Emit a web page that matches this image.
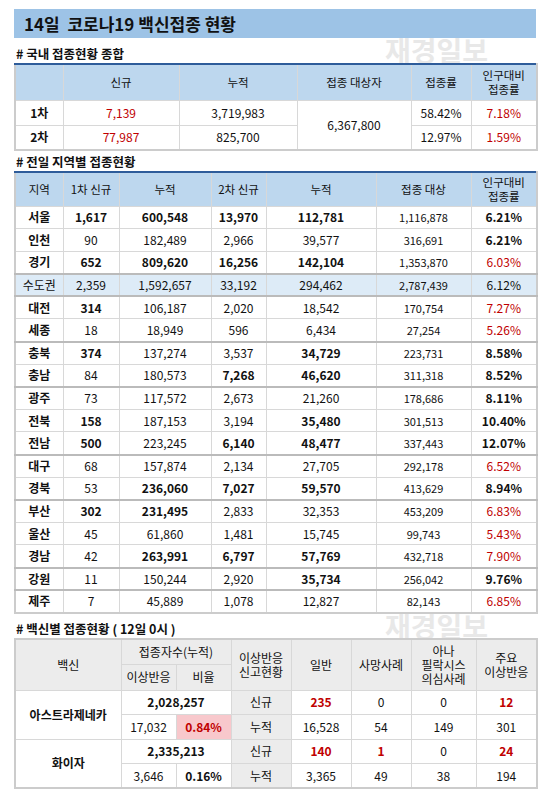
<!DOCTYPE html>
<html><head><meta charset="utf-8">
<script src="https://cdn.jsdelivr.net/npm/chart.js@4"></script>
<style>
body{margin:0;width:550px;height:798px;background:#fff;font-family:"Noto Sans CJK KR","Noto Sans",sans-serif;position:relative;overflow:hidden;color:#111}
.title{position:absolute;left:14px;top:9px;width:522px;height:29px;background:#9dc3e6;font-size:17px;font-weight:bold;line-height:29px;padding-left:10px;box-sizing:border-box}
.sec{position:absolute;left:16px;font-size:12.5px;font-weight:bold}
table{position:absolute;left:14px;border-collapse:collapse;font-size:12px;table-layout:fixed;border:2px solid #ccc}
td{border:1px solid #d8d8d8;text-align:center;padding:0;white-space:nowrap;line-height:14px}
th{background:#bdd7ee;font-weight:normal;border:1px solid #d8d8d8;font-size:11.5px;line-height:14px;padding:0}
.b{font-weight:bold}.r{color:#c00000}
.wm{position:absolute;font-size:28px;font-weight:bold;color:#e8e8e8;z-index:-1}
</style></head><body>
<div class="wm" style="left:385px;top:30px">재경일보</div>
<div class="wm" style="left:385px;top:606px">재경일보</div>
<div class="title">14일 &nbsp;코로나19 백신접종 현황</div>
<div class="sec" style="top:44px"># 국내 접종현황 종합</div>
<table id="t1" style="top:63px;width:522px;border-top:2px solid #2e5c9a"></table>
<div class="sec" style="top:152px"># 전일 지역별 접종현황</div>
<table id="t2" style="top:171px;width:522px;border-top:2px solid #2e5c9a"></table>
<div class="sec" style="top:619px"># 백신별 접종현황 ( 12일 0시 )</div>
<table id="t3" style="top:638px;width:522px"></table>
<script>
// Table 1
const doseLabels=["1차","2차"];
const doseNew=["7,139","77,987"];
const doseCum=["3,719,983","825,700"];
const doseTarget="6,367,800";
const doseRate=["58.42%","12.97%"];
const dosePopRate=["7.18%","1.59%"];
// Table 2
const regions=["서울","인천","경기","수도권","대전","세종","충북","충남","광주","전북","전남","대구","경북","부산","울산","경남","강원","제주"];
const first=["1,617","90","652","2,359","314","18","374","84","73","158","500","68","53","302","45","42","11","7"];
const firstCum=["600,548","182,489","809,620","1,592,657","106,187","18,949","137,274","180,573","117,572","187,153","223,245","157,874","236,060","231,495","61,860","263,991","150,244","45,889"];
const second=["13,970","2,966","16,256","33,192","2,020","596","3,537","7,268","2,673","3,194","6,140","2,134","7,027","2,833","1,481","6,797","2,920","1,078"];
const secondCum=["112,781","39,577","142,104","294,462","18,542","6,434","34,729","46,620","21,260","35,480","48,477","27,705","59,570","32,353","15,745","57,769","35,734","12,827"];
const target=["1,116,878","316,691","1,353,870","2,787,439","170,754","27,254","223,731","311,318","178,686","301,513","337,443","292,178","413,629","453,209","99,743","432,718","256,042","82,143"];
const popRate=["6.21%","6.21%","6.03%","6.12%","7.27%","5.26%","8.58%","8.52%","8.11%","10.40%","12.07%","6.52%","8.94%","6.83%","5.43%","7.90%","9.76%","6.85%"];
const bFirst=["서울","경기","대전","충북","전북","전남","부산"];
const bFirstCum=["서울","경기","경북","부산","경남"];
const bSecond=["서울","경기","충남","전남","경북","경남"];
const bSecondCum=["서울","경기","충북","충남","전북","전남","경북","경남","강원"];
const redRate=["경기","대전","세종","대구","부산","울산","경남","제주"];
const groupEnd=["경기","수도권","세종","충남","전남","경북","경남","강원"];
// Table 3
const vaccines=["아스트라제네카","화이자"];
const vacTotal=["2,028,257","2,335,213"];
const vacAdverse=["17,032","3,646"];
const vacRatio=["0.84%","0.16%"];
const newGeneral=["235","140"],newDeath=["0","1"],newAna=["0","0"],newMajor=["12","24"];
const cumGeneral=["16,528","3,365"],cumDeath=["54","49"],cumAna=["149","38"],cumMajor=["301","194"];

let h='<colgroup><col style="width:48px"><col style="width:116px"><col style="width:118px"><col style="width:114px"><col style="width:60px"><col style="width:66px"></colgroup>';
h+='<tr style="height:36px"><th></th><th>신규</th><th>누적</th><th>접종 대상자</th><th>접종률</th><th>인구대비<br>접종률</th></tr>';
doseLabels.forEach((d,i)=>{h+=`<tr style="height:25px"><td class="b">${d}</td><td class="r">${doseNew[i]}</td><td>${doseCum[i]}</td>${i==0?`<td rowspan="2">${doseTarget}</td>`:''}<td>${doseRate[i]}</td><td class="r">${dosePopRate[i]}</td></tr>`});
document.getElementById('t1').innerHTML=h;

h='<colgroup><col style="width:48px"><col style="width:56px"><col style="width:92px"><col style="width:55px"><col style="width:110px"><col style="width:95px"><col style="width:66px"></colgroup>';
h+='<tr style="height:34px"><th>지역</th><th>1차 신규</th><th>누적</th><th>2차 신규</th><th>누적</th><th>접종 대상</th><th>인구대비<br>접종률</th></tr>';
regions.forEach((r,i)=>{
 const cap=r=="수도권";
 const st=`height:22.6px;${cap?'background:#ddebf7;':''}${groupEnd.includes(r)?'border-bottom:2px solid #bbb;':''}`;
 const c=(v,b,extra='')=>`<td class="${b&&!cap?'b':''} ${extra}">${v}</td>`;
 const red=redRate.includes(r);
 h+=`<tr style="${st}"><td class="${cap?'':'b'}">${r}</td>${c(first[i],bFirst.includes(r))}${c(firstCum[i],bFirstCum.includes(r))}${c(second[i],bSecond.includes(r))}${c(secondCum[i],bSecondCum.includes(r))}<td style="font-size:11px">${target[i]}</td>${c(popRate[i],!red,red?'r':'')}</tr>`;
});
document.getElementById('t2').innerHTML=h;

h='<colgroup><col style="width:106px"><col style="width:55px"><col style="width:55px"><col style="width:60px"><col style="width:60px"><col style="width:60px"><col style="width:65px"><col style="width:61px"></colgroup>';
const g='background:#ececec;';
h+=`<tr style="height:25px"><td rowspan="2" style="${g}">백신</td><td colspan="2" style="${g}">접종자수(누적)</td><td rowspan="2" style="${g}">이상반응<br>신고현황</td><td rowspan="2" style="${g}">일반</td><td rowspan="2" style="${g}">사망사례</td><td rowspan="2" style="${g}">아나<br>필락시스<br>의심사례</td><td rowspan="2" style="${g}">주요<br>이상반응</td></tr>`;
h+=`<tr style="height:26px"><td style="${g}">이상반응</td><td style="${g}">비율</td></tr>`;
vaccines.forEach((v,i)=>{
 h+=`<tr style="height:24.5px"><td rowspan="2" class="b">${v}</td><td colspan="2" class="b">${vacTotal[i]}</td><td style="${g}">신규</td><td class="b r">${newGeneral[i]}</td><td class="${newDeath[i]!='0'?'b r':''}">${newDeath[i]}</td><td>${newAna[i]}</td><td class="b r">${newMajor[i]}</td></tr>`;
 h+=`<tr style="height:24.5px"><td>${vacAdverse[i]}</td><td class="b ${i==0?'r':''}" style="${i==0?'background:#f8c8cc':''}">${vacRatio[i]}</td><td style="${g}">누적</td><td>${cumGeneral[i]}</td><td>${cumDeath[i]}</td><td>${cumAna[i]}</td><td>${cumMajor[i]}</td></tr>`;
});
document.getElementById('t3').innerHTML=h;
</script></body></html>
